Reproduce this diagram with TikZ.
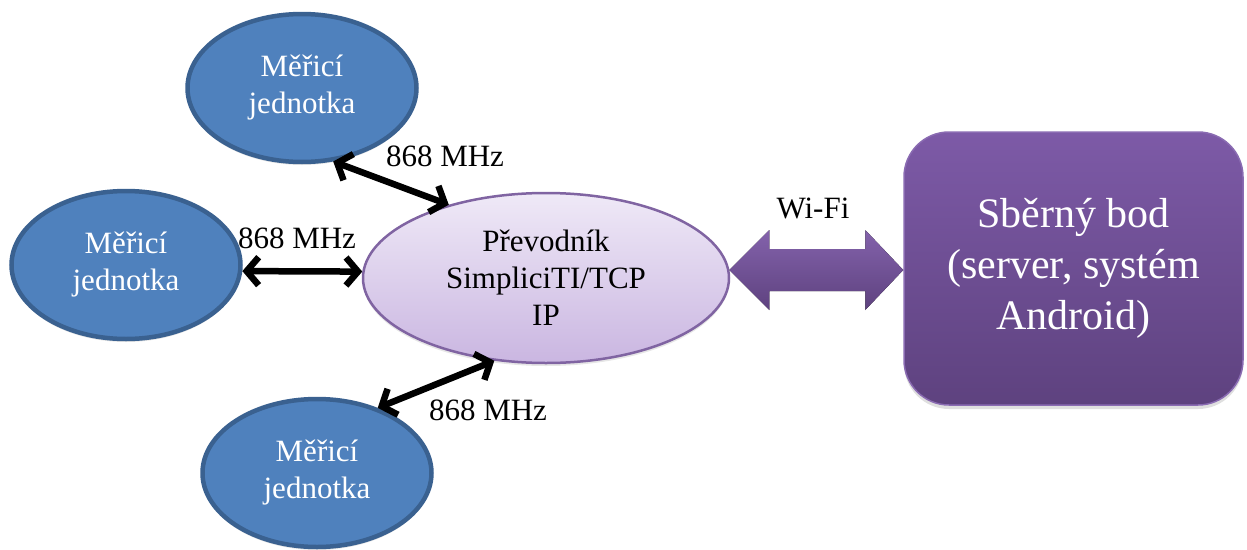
\documentclass[tikz,border=0pt]{standalone}
\usepackage{fontspec}
\setmainfont{Liberation Serif}
\usetikzlibrary{shapes.geometric,arrows.meta,calc,shadows}

\definecolor{unitfill}{HTML}{4F81BD}
\definecolor{unitline}{HTML}{3A6190}
\definecolor{convtop}{HTML}{EFE9F7}
\definecolor{convbot}{HTML}{CAB6E1}
\definecolor{convline}{HTML}{8064A2}
\definecolor{hubtop}{HTML}{7D5AA7}
\definecolor{hubbot}{HTML}{5E427F}
\definecolor{hubline}{HTML}{8A6BB2}

\tikzset{
  basefont/.style={font=\fontsize{31}{37}\selectfont},
  unit/.style={ellipse, basefont, draw=unitline, line width=4.5pt, fill=unitfill,
    text=white, align=center, inner sep=0pt,
    minimum width=229pt, minimum height=148pt,
    drop shadow={opacity=0.2, shadow xshift=0pt, shadow yshift=-3pt}},
  conv/.style={ellipse, basefont, draw=convline, line width=2.5pt,
    top color=convtop, bottom color=convbot, text=black, align=center,
    inner sep=0pt, minimum width=366pt, minimum height=170pt,
    drop shadow={opacity=0.2, shadow xshift=0pt, shadow yshift=-3pt}},
  hub/.style={rectangle, rounded corners=45pt, draw=hubline, line width=1.5pt,
    top color=hubtop, bottom color=hubbot, text=white, align=center,
    font=\fontsize{42}{51}\selectfont, inner sep=0pt,
    minimum width=339pt, minimum height=273pt,
    drop shadow={opacity=0.25, shadow xshift=0pt, shadow yshift=-4pt}},
  radio/.style={line width=6.5pt, black,
    {Straight Barb[length=12pt,width=28pt]}-{Straight Barb[length=12pt,width=28pt]}},
  freq/.style={basefont, text=black, inner sep=0pt},
  wifi/.style={top color=hubtop!95!white, bottom color=hubbot, draw=none}
}

\begin{document}
\begin{tikzpicture}[x=1pt,y=-1pt]
\useasboundingbox (0,0) rectangle (1247,549);

% measuring units and the converter
\node[unit] (unitA) at (302,88)  {Měřicí\\jednotka};
\node[unit] (unitB) at (126,265) {Měřicí\\jednotka};
\node[unit] (unitC) at (317,473) {Měřicí\\jednotka};
\node[conv] (conv)  at (546,278) {Převodník\\SimpliciTI/TCP\\IP};

% collection point
\node[hub] (hub) at (1073.5,268.5) {Sběrný bod\\(server, systém\\Android)};

% 868 MHz radio links
\draw[radio] (unitA.-67) -- (conv.143.4);
\draw[radio] (unitB.-3.5) -- (conv.178);
\draw[radio] (unitC.47.4) -- (conv.238.7);

\node[freq] (fA) at (445,156) {868 MHz};
\node[freq] (fB) at (297,238) {868 MHz};
\node[freq] (fC) at (488,410) {868 MHz};

% Wi-Fi link as a block double arrow
\coordinate (wl) at ($(conv.east)+(-1,-8)$);
\coordinate (wr) at ($(hub.west)+(0,1.5)$);
\fill[wifi] (wl) -- ++(40,-40) -- ++(0,19) -- ($(wr)+(-38,-21)$) -- ++(0,-19)
  -- (wr) -- ++(-38,40) -- ++(0,-19) -- ($(wl)+(40,21)$) -- ++(0,19) -- cycle;
\node[freq] (wlabel) at (813,208) {Wi-Fi};
\end{tikzpicture}
\end{document}
